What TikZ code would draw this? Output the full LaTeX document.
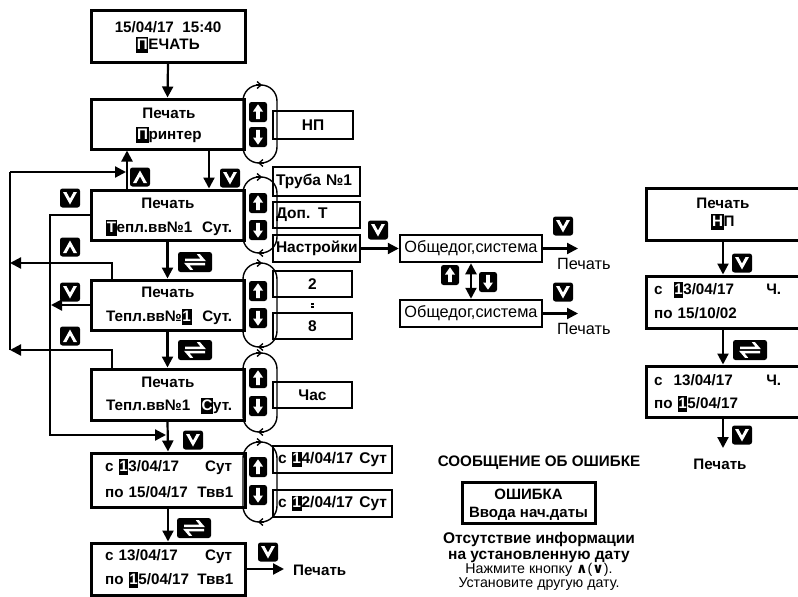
\documentclass[tikz,border=0pt]{standalone}
\usepackage{fontspec}
\setmainfont{Liberation Sans}
\newfontfamily\djv{DejaVu Sans}
\usetikzlibrary{arrows.meta}
\newcommand\hl[1]{{\setlength\fboxsep{0.6pt}\colorbox{black}{\textcolor{white}{\rule[-3pt]{0pt}{14pt}#1}}}}
\tikzset{
  box/.style={draw, line width=3pt, inner sep=0pt},
  obox/.style={draw, line width=2.5pt, inner sep=0pt, font=\bfseries\fontsize{15.5}{17}\selectfont},
  tx/.style={inner sep=0pt, font=\bfseries\fontsize{15.2}{17}\selectfont},
  rx/.style={inner sep=0pt, font=\fontsize{16.3}{18}\selectfont},
  conn/.style={line width=2.2pt},
  arr/.style={conn, -{Triangle[length=11pt,width=11pt]}},
  capsule/.style={line width=1.4pt, rounded corners=16pt},
  capar/.style={line width=1.3pt, -{Straight Barb[length=4pt,width=7pt]}},
  keysq/.style={fill=black, rounded corners=2.5pt, minimum width=20pt, minimum height=19pt, inner sep=0pt},
  pics/kdn/.style={code={\node[keysq] (-k) {};
     \fill[white] (-7,-6)--(0,6.5)--(7,-6)--(3.6,-6)--(0,0.6)--(-3.6,-6)--cycle;}},
  pics/kup/.style={code={\node[keysq] (-k) {};
     \fill[white] (-7,6)--(0,-6.5)--(7,6)--(3.6,6)--(0,-0.6)--(-3.6,6)--cycle;}},
  pics/aup/.style={code={\node[keysq, minimum width=18pt, minimum height=20pt] (-k) {};
     \fill[white] (-1.8,7.2)--(-1.8,-0.5)--(-5,-0.5)--(0,-7.7)--(5,-0.5)--(1.8,-0.5)--(1.8,7.2)--cycle;}},
  pics/adn/.style={code={\node[keysq, minimum width=18pt, minimum height=20pt] (-k) {};
     \fill[white] (-1.8,-7.2)--(-1.8,0.5)--(-5,0.5)--(0,7.7)--(5,0.5)--(1.8,0.5)--(1.8,-7.2)--cycle;}},
  pics/swp/.style={code={\node[keysq, minimum width=34pt, minimum height=20pt] (-k) {};
     \fill[white] (-10,-0.8)--(11,-0.8)--(5,-7.8)--(1.8,-7.8)--(5.5,-3.3)--(-10,-3.3)--cycle;
     \fill[white] (10,0.8)--(-11,0.8)--(-5,7.8)--(-1.8,7.8)--(-5.5,3.3)--(10,3.3)--cycle;}},
}
\begin{document}
\begin{tikzpicture}[x=1pt,y=-1pt]
\fill[white] (0,0) rectangle (798,597);
\useasboundingbox (0,0) rectangle (798,597);

% ---------- left column boxes ----------
\node[box, minimum width=154pt, minimum height=52pt] (b0) at (168,36) {};
\node[tx] (t0a) at (168,27) {15/04/17\ \ 15:40};
\node[tx] (t0b) at (168,45) {\hl{П}ЕЧАТЬ};

\node[box, minimum width=153pt, minimum height=50pt] (b1) at (167.5,124) {};
\node[tx] (t1a) at (169,113) {Печать};
\node[tx] (t1b) at (169,135) {\hl{П}ринтер};

\node[box, minimum width=153pt, minimum height=50pt] (b2) at (167.5,215) {};
\node[tx] (t2a) at (168,203) {Печать};
\node[tx, text width=126pt, anchor=west] (t2b) at (106,228) {\hl{Т}епл.вв№1\hfill Сут.};

\node[box, minimum width=153pt, minimum height=50pt] (b3) at (167.5,305) {};
\node[tx] (t3a) at (168,292) {Печать};
\node[tx, text width=126pt, anchor=west] (t3b) at (106,317) {Тепл.вв№\hl{1}\hfill Сут.};

\node[box, minimum width=153pt, minimum height=51pt] (b4) at (167.5,394.5) {};
\node[tx] (t4a) at (168,382) {Печать};
\node[tx, text width=126pt, anchor=west] (t4b) at (106,406) {Тепл.вв№1\hfill \hl{С}ут.};

\node[box, minimum width=154pt, minimum height=54pt] (b5) at (168,480) {};
\node[tx, text width=127pt, anchor=west] (t5a) at (105,467) {с \hl{1}3/04/17\hfill Сут};
\node[tx, text width=128pt, anchor=west] (t5b) at (105,492) {по 15/04/17\hfill Твв1};

\node[box, minimum width=154pt, minimum height=52pt] (b6) at (168,569) {};
\node[tx, text width=127pt, anchor=west] (t6a) at (105,557) {с 13/04/17\hfill Сут};
\node[tx, text width=128pt, anchor=west] (t6b) at (105,580) {по \hl{1}5/04/17\hfill Твв1};

% ---------- capsules ----------
\draw[capsule] (243,85) rectangle (277,163);
\draw[capsule] (243,177) rectangle (277,253);
\draw[capsule] (243,263) rectangle (277,347);
\draw[capsule] (243,353) rectangle (277,432);
\draw[capsule] (243,442) rectangle (277,522);
\foreach \a/\b in {85/163,177/253,263/347,353/432,442/522}{
  \draw[capar] (256,\a) -- (262,\a);
  \draw[capar] (264,\b) -- (258,\b);
}

% ---------- option boxes ----------
\node[obox, minimum width=80pt, minimum height=28pt] (o1) at (313,125) {НП};
\node[obox, text width=81pt, inner xsep=3pt, align=left, minimum height=29pt] (o2) at (316.5,181.5) {Труба №1};
\node[obox, text width=81pt, inner xsep=3pt, align=left, minimum height=26pt] (o3) at (316.5,215) {Доп. Т};
\node[obox, text width=81pt, inner xsep=3pt, align=left, minimum height=27pt] (o4) at (316.5,248.5) {Настройки};
\node[obox, minimum width=79pt, minimum height=26pt] (o5) at (312.5,284) {2};
\node[obox, minimum width=79pt, minimum height=26pt] (o6) at (312.5,326) {8};
\node[obox, minimum width=79pt, minimum height=26pt] (o7) at (312.5,395) {Час};
\node[obox, text width=109pt, inner xsep=5pt, minimum height=27pt] (o8) at (332.5,459.5) {с \hl{1}4/04/17\hfill Сут};
\node[obox, text width=109pt, inner xsep=5pt, minimum height=27pt] (o9) at (332.5,503.5) {с \hl{1}2/04/17\hfill Сут};
\draw[line width=2.4pt, dash pattern=on 1.6pt off 1.2pt, shorten <=5pt, shorten >=3pt] (o5.south) -- (o6.north);

% ---------- left column connectors ----------
\draw[arr] (b0.south) -- (b1.north);
\draw[arr] ([xshift=41.5pt]b1.south) -- ([xshift=41.5pt]b2.north);
\coordinate (u) at ([xshift=-40.5pt]b2.north);
\draw[arr] (u) -- ([xshift=-40.5pt]b1.south);
\coordinate (L1) at (10,172);
\coordinate (L3) at (10,263);
\coordinate (L2) at (10,350);
\draw[conn] (L2) -- (L1);
\draw[arr, shorten >=1pt] (L1) -- (L1 -| u);
\draw[arr] ([xshift=-55.5pt]b3.north) |- (L3);
\draw[arr] ([xshift=-55.5pt]b4.north) |- (L2);
\coordinate (M1) at (50,215);
\coordinate (M2) at (50,435);
\draw[arr, shorten >=2pt] (b2.west) -- (M1) -- (M2) -- (M2 -| b5.north);
\draw[arr, shorten >=1pt] (b3.west) -- (b3.west -| M1);
\draw[arr] (b2.south) -- (b3.north);
\draw[arr] (b3.south) -- (b4.north);
\draw[arr] (b4.south) -- (b5.north);
\draw[arr] (b5.south) -- (b6.north);
\node[tx, anchor=west] (p1) at (293,570) {Печать};
\draw[arr, shorten >=9pt] (b6.east) -- (p1.west |- b6.east);

% ---------- Общедог ----------
\node[box, line width=2.5pt, minimum width=142pt, minimum height=27pt, rx] (g1) at (471,248.5) {Общедог,система};
\node[box, line width=2.5pt, minimum width=142pt, minimum height=27pt, rx] (g2) at (471,313.5) {Общедог,система};
\draw[arr] (o4.east) -- (g1.west);
\coordinate (e1) at (578,248.5);
\coordinate (e2) at (578,313.5);
\draw[arr] (g1.east) -- (e1);
\draw[arr] (g2.east) -- (e2);
\node[rx, anchor=west] (p2) at (557,264) {Печать};
\node[rx, anchor=west] (p3) at (557,329) {Печать};
\draw[conn, {Triangle[length=11pt,width=11pt]}-{Triangle[length=11pt,width=11pt]}] (g1.south) -- (g2.north);

% ---------- right column ----------
\node[box, minimum width=164pt, minimum height=52pt] (r1) at (728,214) {};
\node[tx] (tr1a) at (723,203) {Печать};
\node[tx] (tr1b) at (723,222) {\hl{Н}П};
\node[box, minimum width=164pt, minimum height=52pt] (r2) at (728,302) {};
\node[tx, text width=127pt, anchor=west] (tr2a) at (654,290) {с\hspace{11pt}\hl{1}3/04/17\hfill Ч.};
\node[tx, text width=127pt, anchor=west] (tr2b) at (654,313) {по 15/10/02};
\node[box, minimum width=164pt, minimum height=51pt] (r3) at (728,391.5) {};
\node[tx, text width=127pt, anchor=west] (tr3a) at (654,380) {с\hspace{11pt}13/04/17\hfill Ч.};
\node[tx, text width=127pt, anchor=west] (tr3b) at (654,404) {по \hl{1}5/04/17};
\draw[arr] ([xshift=-5pt]r1.south) -- ([xshift=-5pt]r2.north);
\draw[arr] ([xshift=-5pt]r2.south) -- ([xshift=-5pt]r3.north);
\coordinate (e3) at (723,448);
\draw[arr] ([xshift=-5pt]r3.south) -- (e3);
\node[tx] (p4) at (720,464) {Печать};

% ---------- error message ----------
\node[tx, font=\bfseries\fontsize{15.2}{17}\selectfont] (eh) at (539,463) {СООБЩЕНИЕ ОБ ОШИБКЕ};
\node[box, minimum width=133pt, minimum height=41pt, align=center, text depth=1pt, font=\bfseries\fontsize{15}{18.5}\selectfont] (eb) at (528.5,502.5) {\rule{0pt}{13pt}ОШИБКА\\Ввода нач.даты};
\node[tx, align=center, font=\bfseries\fontsize{15.5}{15.5}\selectfont] (ei) at (539,547.5) {Отсутствие информации\\на установленную дату};
\node[inner sep=0pt, align=center, font=\fontsize{14.2}{14.6}\selectfont] (ek) at (539,577) {Нажмите кнопку {\djv\bfseries ∧}({\djv\bfseries ∨}).\\Установите другую дату.};

% ---------- keys ----------
\pic (kd1) at (230,178) {kdn};
\pic (kd2) at (70,198) {kdn};
\pic (kd3) at (70,292) {kdn};
\pic (kd4) at (378,230) {kdn};
\pic (kd5) at (563,226) {kdn};
\pic (kd6) at (563,292) {kdn};
\pic (kd7) at (193,440) {kdn};
\pic (kd8) at (268,552) {kdn};
\pic (kd9) at (742,263) {kdn};
\pic (kd10) at (742,435) {kdn};
\pic (ku1) at (140,177) {kup};
\pic (ku2) at (70,247) {kup};
\pic (ku3) at (70,336) {kup};
\pic (au1) at (258,112) {aup};
\pic (ad1) at (258,137) {adn};
\pic (au2) at (258,203) {aup};
\pic (ad2) at (258,230) {adn};
\pic (au3) at (258,291) {aup};
\pic (ad3) at (258,318) {adn};
\pic (au4) at (258,378) {aup};
\pic (ad4) at (258,406) {adn};
\pic (au5) at (258,467) {aup};
\pic (ad5) at (258,495) {adn};
\pic (au6) at (450,275) {aup};
\pic (ad6) at (488,282) {adn};
\pic (sw1) at (195,262) {swp};
\pic (sw2) at (195,350) {swp};
\pic (sw3) at (194,528) {swp};
\pic (sw4) at (750,350) {swp};
\end{tikzpicture}
\end{document}
